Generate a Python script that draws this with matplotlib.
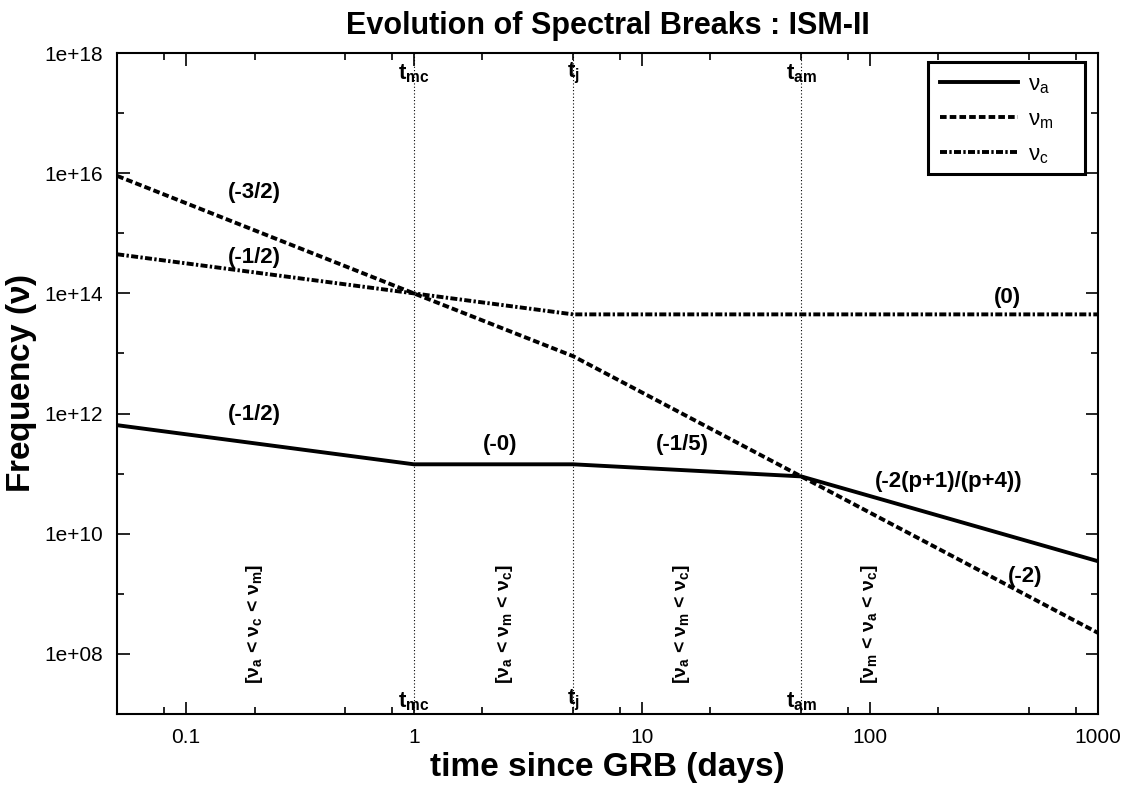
import matplotlib
matplotlib.use("Agg")
import matplotlib.pyplot as plt
from matplotlib.patches import Rectangle
from matplotlib.ticker import FixedLocator, FuncFormatter, NullFormatter

plt.rcParams['font.family'] = ['Liberation Sans', 'DejaVu Sans']
plt.rcParams['mathtext.fontset'] = 'custom'
plt.rcParams['mathtext.rm'] = 'Liberation Sans'
plt.rcParams['mathtext.it'] = 'Liberation Sans:italic'
plt.rcParams['mathtext.bf'] = 'Liberation Sans:bold'
plt.rcParams['mathtext.default'] = 'regular'

# break times (days) and the break frequencies at those times
times = [0.05, 1, 5, 50, 1000]
nu_a = [6.4e11, 1.43e11, 1.43e11, 9.0e10, 3.5e9]
nu_m = [9.0e15, 1.0e14, 9.0e12, 9.0e10, 2.25e8]
nu_c = [4.47e14, 1.0e14, 4.47e13, 4.47e13, 4.47e13]

break_times = [1, 5, 50]
break_names = [r'$t_{mc}$', r'$t_j$', r'$t_{am}$']

# slope labels: (x, y, text)
slope_labels = [
    (0.2, 4.8e15, '(-3/2)'),
    (0.2, 4.0e14, '(-1/2)'),
    (0.2, 9.6e11, '(-1/2)'),
    (2.4, 3.0e11, '(-0)'),
    (15, 3.0e11, '(-1/5)'),
    (400, 8.5e13, '(0)'),
    (223, 7.4e10, '(-2(p+1)/(p+4))'),
    (480, 1.95e9, '(-2)'),
]

# regime labels (vertical)
regime_x = [0.2, 2.5, 15, 100]
regime_text = [r'[$\nu_a$ < $\nu_c$ < $\nu_m$]',
               r'[$\nu_a$ < $\nu_m$ < $\nu_c$]',
               r'[$\nu_a$ < $\nu_m$ < $\nu_c$]',
               r'[$\nu_m$ < $\nu_a$ < $\nu_c$]']

fig = plt.figure(figsize=(11.34, 7.9), dpi=100)
ax = fig.add_axes([0.1034, 0.0962, 0.8646, 0.8367])

lw = 2.8
ax.plot(times, nu_a, color='black', lw=lw, label=r'$\nu_a$')
ax.plot(times, nu_m, color='black', lw=lw, dashes=(1.7, 0.8), label=r'$\nu_m$')
ax.plot(times, nu_c, color='black', lw=lw, dashes=(1.8, 0.6, 0.6, 0.6), label=r'$\nu_c$')

ax.set_xscale('log')
ax.set_yscale('log')
ax.set_xlim(0.05, 1000)
ax.set_ylim(1e7, 1e18)

for t, name in zip(break_times, break_names):
    ax.axvline(t, color='black', lw=0.8, ls=(0, (1, 2)))
    ax.text(t, 4.5e17, name, ha='center', va='center', fontsize=16, fontweight='bold')
    ax.text(t, 1.05e7, name, ha='center', va='bottom', fontsize=16, fontweight='bold')

for x, y, s in slope_labels:
    ax.text(x, y, s, ha='center', va='center', fontsize=16, fontweight='bold')

for x, s in zip(regime_x, regime_text):
    ax.text(x, 3.2e7, s, rotation=90, ha='center', va='bottom', fontsize=14, fontweight='bold')

ax.xaxis.set_major_locator(FixedLocator([0.1, 1, 10, 100, 1000]))
ax.xaxis.set_minor_locator(FixedLocator([m * 10.0 ** e for e in range(-2, 3) for m in (2, 5, 8)]))
ax.xaxis.set_major_formatter(FuncFormatter(lambda v, p: '%g' % v))
ax.xaxis.set_minor_formatter(NullFormatter())
ax.yaxis.set_major_locator(FixedLocator([10.0 ** e for e in range(8, 19, 2)]))
ax.yaxis.set_minor_locator(FixedLocator([10.0 ** e for e in range(7, 18, 2)]))
ax.yaxis.set_major_formatter(FuncFormatter(lambda v, p: '%.0e' % v))
ax.yaxis.set_minor_formatter(NullFormatter())

ax.tick_params(which='both', direction='in', top=True, right=True, labelsize=15, pad=10)
ax.tick_params(which='major', length=9, width=1.2)
ax.tick_params(which='minor', length=5, width=1.2)
for sp in ax.spines.values():
    sp.set_linewidth(1.5)

ax.set_xlabel('time since GRB (days)', fontsize=24, fontweight='bold', labelpad=4)
ax.set_ylabel(r'Frequency ($\nu$)', fontsize=24, fontweight='bold', labelpad=4)
ax.set_title('Evolution of Spectral Breaks : ISM-II', fontsize=22, fontweight='bold', pad=14)

# legend without its own frame, boxed by a wider rectangle like the original
ax.legend(loc='upper left', bbox_to_anchor=(0.8269, 0.9864), borderaxespad=0,
          fontsize=16, handlelength=3.5, handletextpad=0.45, frameon=False,
          labelspacing=0.6, borderpad=0.55)
ax.add_patch(Rectangle((0.8269, 0.8166), 0.1602, 0.1698, transform=ax.transAxes,
                       fill=False, edgecolor='black', lw=2.2, zorder=5))

fig.savefig('out.png', dpi=100)
